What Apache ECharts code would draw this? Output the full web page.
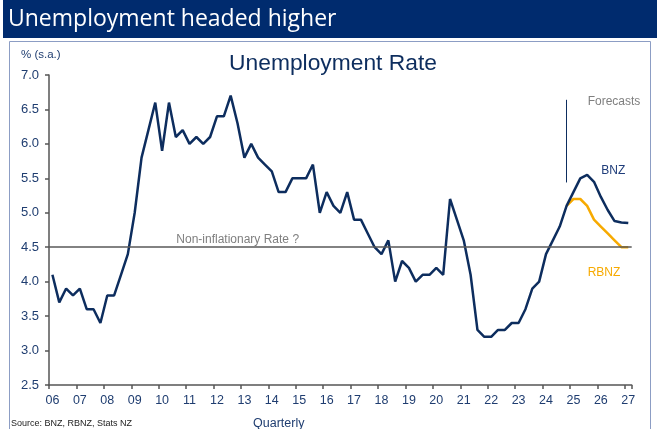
<!DOCTYPE html>
<html>
<head>
<meta charset="utf-8">
<script src="https://cdn.jsdelivr.net/npm/echarts@6/dist/echarts.min.js"></script>
<style>
html,body{margin:0;padding:0;background:#fff;}
#chart{width:661px;height:429px;}
</style>
</head>
<body>
<div id="chart"></div>
<script>
// Tick labels (years) and quarterly categories
const yearLabels = ['06','07','08','09','10','11','12','13','14','15','16','17','18','19','20','21','22','23','24','25','26','27'];
const quarters = ['Q1','Q2','Q3','Q4'];
const categories = [];
yearLabels.forEach(function (y, yi) {
  quarters.forEach(function (q, qi) {
    if (yi < yearLabels.length - 1 || qi === 0) categories.push(y + q);
  });
});

// BNZ: history + BNZ forecast (%, s.a.)
const bnz = [
  4.1, 3.7, 3.9, 3.8, 3.9, 3.6, 3.6, 3.4, 3.8, 3.8,
  4.1, 4.4, 5.0, 5.8, 6.2, 6.6, 5.9, 6.6, 6.1, 6.2,
  6.0, 6.1, 6.0, 6.1, 6.4, 6.4, 6.7, 6.3, 5.8, 6.0,
  5.8, 5.7, 5.6, 5.3, 5.3, 5.5, 5.5, 5.5, 5.7, 5.0,
  5.3, 5.1, 5.0, 5.3, 4.9, 4.9, 4.7, 4.5, 4.4, 4.6,
  4.0, 4.3, 4.2, 4.0, 4.1, 4.1, 4.2, 4.1, 5.2, 4.9,
  4.6, 4.1, 3.3, 3.2, 3.2, 3.3, 3.3, 3.4, 3.4, 3.6,
  3.9, 4.0, 4.4, 4.6, 4.8, 5.1, 5.3, 5.5, 5.55, 5.45,
  5.23, 5.04, 4.88, 4.86, 4.85
];
// RBNZ forecast
const rbnz = [
  null, null, null, null, null, null, null, null, null, null,
  null, null, null, null, null, null, null, null, null, null,
  null, null, null, null, null, null, null, null, null, null,
  null, null, null, null, null, null, null, null, null, null,
  null, null, null, null, null, null, null, null, null, null,
  null, null, null, null, null, null, null, null, null, null,
  null, null, null, null, null, null, null, null, null, null,
  null, null, null, null, null, 5.1, 5.2, 5.2, 5.1, 4.9,
  4.8, 4.7, 4.6, 4.5, 4.5
];
const nonInflationaryRate = 4.5;
const forecastStartIndex = 75;
const forecastMarkerRange = [5.44, 6.64];

const NAVY = '#0d2d5e';
const ORANGE = '#f7aa00';
const LABEL = '#1f3d70';
const GREY = '#7f7f7f';
const FONT = '"Liberation Sans", Arial, sans-serif';

function note(text, idx, val, color) {
  return {
    coord: [categories[idx], val],
    symbol: 'rect', symbolSize: 1,
    itemStyle: { color: 'rgba(0,0,0,0)' },
    label: { show: true, position: 'right', distance: 0, formatter: text,
             color: color, fontSize: 12, fontFamily: FONT }
  };
}

const chart = echarts.init(document.getElementById('chart'), null, { renderer: 'canvas' });
chart.setOption({
  animation: false,
  backgroundColor: '#ffffff',
  grid: { left: 49, right: 29.3, top: 75, bottom: 44, containLabel: false },
  xAxis: {
    type: 'category',
    data: categories,
    boundaryGap: true,
    axisLine: { lineStyle: { color: '#555555', width: 1.5 } },
    axisTick: { show: true, interval: 3, length: 4, alignWithLabel: false, lineStyle: { color: '#555555', width: 1.5 } },
    axisLabel: { interval: 3, margin: 9, color: LABEL, fontSize: 12.5, fontFamily: FONT,
                 formatter: function (v) { return v.slice(0, 2); } },
    splitLine: { show: false }
  },
  yAxis: {
    type: 'value',
    min: 2.5, max: 7.0, interval: 0.5,
    axisLine: { show: true, lineStyle: { color: '#555555', width: 1.5 } },
    axisTick: { show: true, length: 4, lineStyle: { color: '#555555', width: 1.5 } },
    axisLabel: { margin: 10, color: LABEL, fontSize: 13, fontFamily: FONT,
                 formatter: function (v) { return v.toFixed(1); } },
    splitLine: { show: false }
  },
  series: [
    {
      name: 'RBNZ', type: 'line', data: rbnz, showSymbol: false, symbol: 'none',
      lineStyle: { color: ORANGE, width: 2.5 }, itemStyle: { color: ORANGE }, z: 3
    },
    {
      name: 'BNZ', type: 'line', data: bnz, showSymbol: false, symbol: 'none',
      lineStyle: { color: NAVY, width: 2.5 }, itemStyle: { color: NAVY }, z: 4,
      markLine: {
        silent: true, symbol: ['none', 'none'], animation: false,
        label: { show: false },
        data: [
          { yAxis: nonInflationaryRate, lineStyle: { color: '#595959', width: 1.5, type: 'solid' } },
          [
            { coord: [categories[forecastStartIndex], forecastMarkerRange[0]], lineStyle: { color: NAVY, width: 1, type: 'solid' } },
            { coord: [categories[forecastStartIndex], forecastMarkerRange[1]] }
          ]
        ]
      },
      markPoint: {
        silent: true, animation: false,
        data: [
          note('Forecasts', 78, 6.61, GREY),
          note('BNZ', 80, 5.61, '#1f3d7a'),
          note('RBNZ', 78, 4.13, ORANGE),
          note('Non-inflationary Rate ?', 18, 4.615, GREY)
        ]
      }
    }
  ],
  graphic: [
    { type: 'rect', z: -1, shape: { x: 3, y: 0, width: 654, height: 38 }, style: { fill: '#002b6e' } },
    { type: 'text', x: 8, y: 19, style: { text: 'Unemployment headed higher', fill: '#ffffff',
      font: '23px "Open Sans", sans-serif', verticalAlign: 'middle', align: 'left' } },
    { type: 'rect', z: -1, shape: { x: 9.5, y: 41.5, width: 641, height: 420 },
      style: { fill: 'none', stroke: '#8c9dc4', lineWidth: 1 } },
    { type: 'text', x: 333, y: 64, style: { text: 'Unemployment Rate', fill: '#0d2d5e',
      font: '22.8px "Liberation Sans", Arial, sans-serif', verticalAlign: 'middle', align: 'center' } },
    { type: 'text', x: 21, y: 54.5, style: { text: '% (s.a.)', fill: '#1f3d70',
      font: '11.5px "Liberation Sans", Arial, sans-serif', verticalAlign: 'middle', align: 'left' } },
    { type: 'text', x: 11, y: 423.5, style: { text: 'Source: BNZ, RBNZ, Stats NZ', fill: '#222222',
      font: '9px "Liberation Sans", Arial, sans-serif', verticalAlign: 'middle', align: 'left' } },
    { type: 'text', x: 253, y: 423.5, style: { text: 'Quarterly', fill: '#1f3d70',
      font: '12.5px "Liberation Sans", Arial, sans-serif', verticalAlign: 'middle', align: 'left' } }
  ]
});
</script>
</body>
</html>
